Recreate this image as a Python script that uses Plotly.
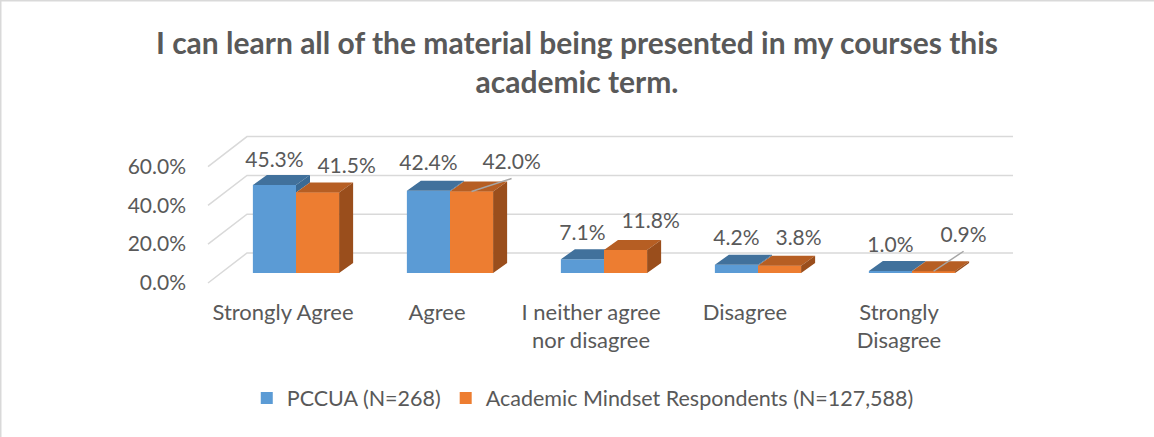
import plotly.graph_objects as go

# ---------------- data ----------------
categories = ["Strongly Agree", "Agree", "I neither agree<br>nor disagree", "Disagree", "Strongly<br>Disagree"]
pccua = [45.3, 42.4, 7.1, 4.2, 1.0]
academic = [41.5, 42.0, 11.8, 3.8, 0.9]
series_names = ["PCCUA (N=268)", "Academic Mindset Respondents (N=127,588)"]
y_ticks = [0, 20, 40, 60]
title_text = "<b>I can learn all of the material being presented in my courses this<br>academic term.</b>"

# ---------------- style / geometry ----------------
W, H = 1154, 437
PX_X = 154.0   # pixels per category step
PX_Y = 1.94    # pixels per percentage point
X0_PX = 296.0  # pixel of first category centre
Y0_PX = 273.0  # pixel of zero on bar front plane

def dx(px):
    return px / PX_X

def dv(px):
    return px / PX_Y

BAR_W = 0.28
DEPTH = (dx(14), dv(10))        # bar depth (right, up)
FRONT = (dx(-13), dv(-10))      # label front plane relative to bar face
BACK = (dx(26), dv(20))         # back wall relative to bar face
WALL_LEFT_FRONT = dx(208 - X0_PX)
WALL_RIGHT_BACK = dx(1013 - X0_PX)

blue_front, blue_top, blue_side = "#5B9BD5", "#41719C", "#3A6A94"
orange_front, orange_top, orange_side = "#ED7D31", "#B65E23", "#9A4E1C"
grid_color = "#D9D9D9"
text_color = "#595959"
FONT = "Lato"

blue_label_dy = [23, 26, 24, 25, 24]
orange_label_dx = [29, 40, 25, 19, 30]
orange_label_dy = [25, 28, 27, 26, 35]
orange_leader = [False, True, False, False, True]

xs = list(range(len(categories)))

fig = go.Figure()

# front faces (library bars)
fig.add_trace(go.Bar(x=xs, y=pccua, width=BAR_W, offset=-BAR_W, name=series_names[0],
                     marker=dict(color=blue_front, line=dict(width=0)), hoverinfo="skip"))
fig.add_trace(go.Bar(x=xs, y=academic, width=BAR_W, offset=0, name=series_names[1],
                     marker=dict(color=orange_front, line=dict(width=0)), hoverinfo="skip"))


def poly_trace(polys, color):
    px_, py_ = [], []
    for p in polys:
        for (a, b) in p:
            px_.append(a)
            py_.append(b)
        px_.append(p[0][0]); py_.append(p[0][1])
        px_.append(None); py_.append(None)
    return go.Scatter(x=px_, y=py_, mode="lines", fill="toself", fillcolor=color,
                      line=dict(width=0, color=color), showlegend=False, hoverinfo="skip")

ddx, ddv = DEPTH

# blue top faces (+ visible part of side face)
tops_b, sides_b = [], []
for i, (vb, vo) in enumerate(zip(pccua, academic)):
    xl, xr = i - BAR_W, i
    tops_b.append([(xl, vb), (xr, vb), (xr + ddx, vb + ddv), (xl + ddx, vb + ddv)])
    if vb > vo:
        sides_b.append([(xr, vo), (xr, vb), (xr + ddx, vb + ddv), (xr + ddx, vo + ddv)])
fig.add_trace(poly_trace(tops_b, blue_top))
if sides_b:
    fig.add_trace(poly_trace(sides_b, blue_side))

# orange front overlay + top + side
fronts_o, tops_o, sides_o = [], [], []
for i, vo in enumerate(academic):
    xl, xr = i, i + BAR_W
    fronts_o.append([(xl, 0), (xr, 0), (xr, vo), (xl, vo)])
    tops_o.append([(xl, vo), (xr, vo), (xr + ddx, vo + ddv), (xl + ddx, vo + ddv)])
    sides_o.append([(xr, 0), (xr, vo), (xr + ddx, vo + ddv), (xr + ddx, ddv)])
fig.add_trace(poly_trace(fronts_o, orange_front))
fig.add_trace(poly_trace(tops_o, orange_top))
fig.add_trace(poly_trace(sides_o, orange_side))

# leader lines
for i, vo in enumerate(academic):
    if orange_leader[i]:
        lx = i + BAR_W / 2 + dx(orange_label_dx[i])
        ly = vo + dv(orange_label_dy[i]) - dv(15)
        fig.add_trace(go.Scatter(x=[i + BAR_W / 2, lx], y=[vo, ly], mode="lines",
                                 line=dict(color="#A6A6A6", width=1.5), showlegend=False, hoverinfo="skip"))

# data labels
fig.add_trace(go.Scatter(
    x=[i - BAR_W / 2 for i in xs],
    y=[v + dv(d) for v, d in zip(pccua, blue_label_dy)],
    text=[f"{v:.1f}%" for v in pccua], mode="text", textposition="middle center",
    textfont=dict(family=FONT, size=21, color=text_color), showlegend=False, hoverinfo="skip"))
fig.add_trace(go.Scatter(
    x=[i + BAR_W / 2 + dx(d) for i, d in zip(xs, orange_label_dx)],
    y=[v + dv(d) for v, d in zip(academic, orange_label_dy)],
    text=[f"{v:.1f}%" for v in academic], mode="text", textposition="middle center",
    textfont=dict(family=FONT, size=21, color=text_color), showlegend=False, hoverinfo="skip"))

# y tick labels on front plane
fig.add_trace(go.Scatter(
    x=[WALL_LEFT_FRONT - dx(22)] * len(y_ticks),
    y=[t + FRONT[1] - dv(2) for t in y_ticks],
    text=[f"{t:.1f}%" for t in y_ticks], mode="text", textposition="middle left",
    textfont=dict(family=FONT, size=21, color=text_color), showlegend=False, hoverinfo="skip"))

# category labels on front plane
fig.add_trace(go.Scatter(
    x=[i + FRONT[0] for i in xs],
    y=[FRONT[1] - dv(20)] * len(xs),
    text=categories, mode="text", textposition="bottom center",
    textfont=dict(family=FONT, size=22, color=text_color), showlegend=False, hoverinfo="skip"))

# gridlines (side wall diagonal + back wall)
shapes = []
for t in y_ticks:
    x_f, y_f = WALL_LEFT_FRONT, t + FRONT[1]
    x_b = WALL_LEFT_FRONT + (BACK[0] - FRONT[0])
    y_b = t + BACK[1]
    shapes.append(dict(type="path", xref="x", yref="y", layer="below",
                       path=f"M {x_f},{y_f} L {x_b},{y_b} L {WALL_RIGHT_BACK},{y_b}",
                       line=dict(color=grid_color, width=1.5)))
# chart border (top and left edges)
shapes.append(dict(type="line", xref="paper", yref="paper", x0=0, x1=1, y0=1, y1=1,
                   line=dict(color="#D9D9D9", width=3)))
shapes.append(dict(type="line", xref="paper", yref="paper", x0=0, x1=0, y0=0, y1=1,
                   line=dict(color="#D9D9D9", width=3)))

fig.update_layout(
    width=W, height=H, autosize=False,
    margin=dict(l=0, r=0, t=0, b=0),
    paper_bgcolor="white", plot_bgcolor="white",
    barmode="overlay",
    shapes=shapes,
    title=dict(text=title_text, x=0.5, xanchor="center", y=1 - 54 / H, yanchor="middle",
               font=dict(family=FONT, size=30, color=text_color)),
    xaxis=dict(range=[-X0_PX / PX_X, (W - X0_PX) / PX_X], visible=False, fixedrange=True),
    yaxis=dict(range=[(Y0_PX - H) / PX_Y, Y0_PX / PX_Y], visible=False, fixedrange=True),
    legend=dict(orientation="h", x=0.505, xanchor="center", y=1 - 398 / H, yanchor="middle",
                font=dict(family=FONT, size=21.5, color=text_color), itemclick=False),
    showlegend=True,
)

fig.write_html("out.html", config={"displayModeBar": False},
               post_script="document.body.style.margin='0';document.body.style.padding='0';")
